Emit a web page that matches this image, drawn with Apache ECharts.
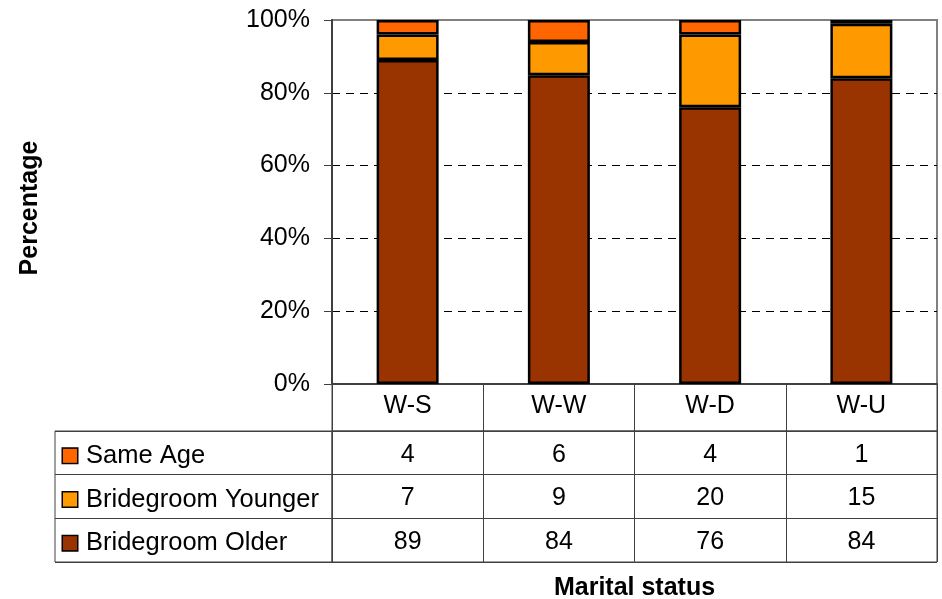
<!DOCTYPE html>
<html>
<head>
<meta charset="utf-8">
<script src="https://cdn.jsdelivr.net/npm/echarts@6/dist/echarts.min.js"></script>
<style>
  html, body { margin: 0; padding: 0; background: #fff; }
  #chart { width: 942px; height: 599px; }
</style>
</head>
<body>
<div id="chart"></div>
<script>
// data
const categories = ['W-S', 'W-W', 'W-D', 'W-U']
const seriesNames = ['Same Age', 'Bridegroom Younger', 'Bridegroom Older']
const sameAge = [4, 6, 4, 1]
const younger = [7, 9, 20, 15]
const older = [89, 84, 76, 84]
const colors = ['#FF6600', '#FF9900', '#993300']

const rows = [sameAge, younger, older]
const font = 'Liberation Sans, Arial, sans-serif'
const lineColor = '#404040'

// 100% stacked, like the original spreadsheet chart
const totals = categories.map((c, i) => rows.reduce((s, r) => s + r[i], 0))
const share = vals => vals.map((v, i) => v / totals[i] * 100)

const barSeries = []
for (let r = rows.length - 1; r >= 0; r--) {
  barSeries.push({
    name: seriesNames[r],
    type: 'bar',
    stack: 'total',
    xAxisIndex: 0,
    yAxisIndex: 0,
    barWidth: 62,
    itemStyle: { color: colors[r], borderColor: '#000', borderWidth: 2.5 },
    data: share(rows[r])
  })
}

const cellData = []
rows.forEach((r, ri) => {
  r.forEach((v, ci) => cellData.push([categories[ci], seriesNames[ri], v]))
})

const rich = {}
colors.forEach((c, i) => {
  rich['k' + i] = { width: 14, height: 14, backgroundColor: c, borderColor: '#000', borderWidth: 1.5 }
})
rich.t = { fontSize: 25.5, fontFamily: font, color: '#000', padding: [0, 0, 0, 9] }

const chart = echarts.init(document.getElementById('chart'))
chart.setOption({
  animation: false,
  textStyle: { fontFamily: font },
  grid: [
    { left: 332, right: 5, top: 20, height: 364, show: true, borderColor: '#808080', borderWidth: 2, outerBoundsMode: 'none' },
    { left: 332, right: 5, top: 431, height: 131, show: true, borderColor: lineColor, borderWidth: 1, outerBoundsMode: 'none' },
    { left: 55, width: 277, top: 431, height: 131, show: true, borderColor: lineColor, borderWidth: 1, outerBoundsMode: 'none' },
    { left: 332, right: 5, top: 384, height: 47, show: true, borderColor: lineColor, borderWidth: 1, outerBoundsMode: 'none' }
  ],
  xAxis: [
    {
      gridIndex: 0,
      type: 'category',
      data: categories,
      axisLine: { lineStyle: { color: lineColor, width: 2 } },
      axisTick: { show: false },
      axisLabel: { fontSize: 25, color: '#000', margin: 10 }
    },
    {
      gridIndex: 1,
      type: 'category',
      data: categories,
      axisLine: { show: false },
      axisTick: { show: false },
      axisLabel: { show: false },
      splitLine: { show: true, lineStyle: { color: lineColor, width: 1 } },
      name: 'Marital status',
      nameLocation: 'middle',
      nameGap: 14,
      nameTextStyle: { fontSize: 25, fontWeight: 'bold', color: '#000', verticalAlign: 'top' }
    },
    {
      gridIndex: 2,
      type: 'category',
      data: [''],
      show: false
    },
    {
      gridIndex: 3,
      type: 'category',
      data: categories,
      axisLine: { show: false },
      axisTick: { show: false },
      axisLabel: { show: false },
      splitLine: { show: true, lineStyle: { color: lineColor, width: 1 } }
    }
  ],
  yAxis: [
    {
      gridIndex: 0,
      type: 'value',
      min: 0,
      max: 100,
      interval: 20,
      axisLine: { show: true, lineStyle: { color: lineColor, width: 2 } },
      axisTick: { show: true, length: 8, lineStyle: { color: lineColor, width: 1 } },
      axisLabel: { fontSize: 25, color: '#000', margin: 22, formatter: '{value}%' },
      splitLine: {
        show: true,
        lineStyle: { color: ['transparent', '#000', '#000', '#000', '#000', 'transparent'], type: [8, 6], width: 1 }
      },
      name: 'Percentage',
      nameLocation: 'middle',
      nameGap: 289,
      nameRotate: 90,
      nameTextStyle: { fontSize: 25, fontWeight: 'bold', color: '#000', padding: [0, 12, 0, 0] }
    },
    {
      gridIndex: 1,
      type: 'category',
      inverse: true,
      data: seriesNames,
      axisLine: { show: false },
      axisTick: { show: false },
      axisLabel: { show: false },
      splitLine: { show: true, lineStyle: { color: lineColor, width: 1 } }
    },
    {
      gridIndex: 2,
      type: 'category',
      inverse: true,
      data: seriesNames,
      axisLine: { show: false },
      axisTick: { show: false },
      axisLabel: {
        inside: true,
        margin: 8,
        padding: [6, 0, 0, 0],
        formatter: (v, i) => '{k' + i + '|}{t|' + v + '}',
        rich: rich
      },
      splitLine: { show: true, lineStyle: { color: lineColor, width: 1 } }
    },
    {
      gridIndex: 3,
      type: 'category',
      data: [''],
      show: false
    }
  ],
  series: barSeries.concat([
    {
      type: 'scatter',
      xAxisIndex: 1,
      yAxisIndex: 1,
      symbolSize: 0,
      itemStyle: { color: '#000', opacity: 1 },
      label: {
        show: true,
        position: 'inside',
        fontSize: 25,
        color: '#000',
        offset: [0, 2],
        formatter: p => p.value[2]
      },
      data: cellData
    }
  ])
})
</script>
</body>
</html>
